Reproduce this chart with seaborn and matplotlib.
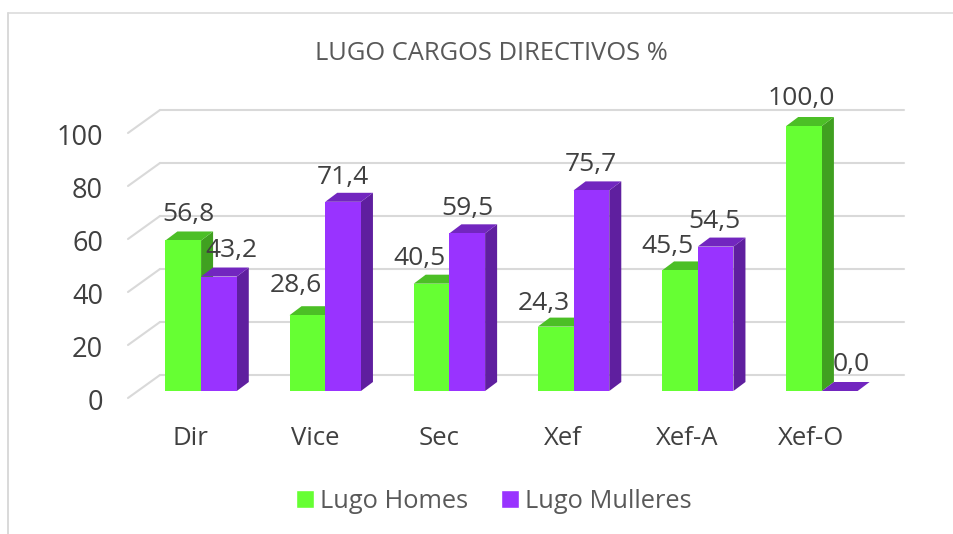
import pandas as pd
import seaborn as sns
import matplotlib.pyplot as plt
from matplotlib.patches import Polygon, Rectangle
from matplotlib.transforms import ScaledTranslation

categories = ['Dir', 'Vice', 'Sec', 'Xef', 'Xef-A', 'Xef-O']
homes = [56.8, 28.6, 40.5, 24.3, 45.5, 100.0]
mulleres = [43.2, 71.4, 59.5, 75.7, 54.5, 0.0]
yticks = [0, 20, 40, 60, 80, 100]

# label shift from bar centre, in pixels
homes_dx = [5, -12, -12, -12, -12, -3]
mulleres_dx = [13, 0, 0, -1, -1, 11]
homes_dy = [26, 30, 25, 23, 24, 27]
mulleres_dy = [26, 24, 25, 26, 25, 27]

W, H = 954, 534
green, purple = '#66FF33', '#9933FF'
tops = {green: '#4CBF26', purple: '#7226BF'}
sides = {green: '#40A020', purple: '#5F1F9F'}

df = pd.DataFrame({
    'cat': categories * 2,
    'val': homes + mulleres,
    'serie': ['Lugo Homes'] * 6 + ['Lugo Mulleres'] * 6,
})

sns.set_theme(style='white')
plt.rcParams['font.family'] = ['Open Sans', 'DejaVu Sans']

fig = plt.figure(figsize=(W / 100, H / 100), dpi=100)
# front plane: x=-0.5 at 139 px, x=5.5 at 884 px, y=0 at 391 px, y=100 at 126 px
ax = fig.add_axes([139 / W, 1 - 391 / H, 745 / W, 265 / H])
sns.barplot(data=df, x='cat', y='val', hue='serie', order=categories,
            palette=[green, purple], width=0.575, saturation=1, ax=ax,
            legend=False, zorder=3, linewidth=0)
ax.set_xlim(-0.5, 5.5)
ax.set_ylim(0, 100)
for s in ax.spines.values():
    s.set_visible(False)
ax.patch.set_alpha(0)
ax.set_xlabel('')
ax.set_ylabel('')

px_x = 6 / 745   # data units per px
px_y = 100 / 265

# back wall gridlines and the left diagonals
for v in yticks:
    yb = v + 16 * px_y
    ax.plot([(160 - 139) * px_x - 0.5, (904 - 139) * px_x - 0.5], [yb, yb],
            color='#D9D9D9', lw=1.5, clip_on=False, zorder=1)
    ax.plot([(128 - 139) * px_x - 0.5, (160 - 139) * px_x - 0.5],
            [v - 7 * px_y, yb], color='#D9D9D9', lw=1.5, clip_on=False, zorder=1)

# depth faces for the bars
dx, dy = 12 * px_x, 9 * px_y
bars = list(ax.patches)
for i, b in enumerate(bars):
    col = green if i < 6 else purple
    x0, x1, h = b.get_x(), b.get_x() + b.get_width(), b.get_height()
    ax.add_patch(Polygon([(x1, 0), (x1 + dx, dy), (x1 + dx, h + dy), (x1, h)],
                         fc=sides[col], lw=0, clip_on=False, zorder=2 + (i >= 6)))
    ax.add_patch(Polygon([(x0, h), (x0 + dx, h + dy), (x1 + dx, h + dy), (x1, h)],
                         fc=tops[col], lw=0, clip_on=False, zorder=2 + (i >= 6)))
    b.set_zorder(3 + (i >= 6))

# data labels
shifts = list(zip(homes_dx + mulleres_dx, homes_dy + mulleres_dy))
for b, v, (sx, sy) in zip(bars, homes + mulleres, shifts):
    ax.annotate(f'{v:.1f}'.replace('.', ','), (b.get_x() + b.get_width() / 2, v),
                xytext=(sx * 0.72, sy * 0.72), textcoords='offset points',
                ha='center', va='center', fontsize=19, color='#404040',
                annotation_clip=False, zorder=6)

ax.set_yticks(yticks)
ax.set_yticklabels([str(v) for v in yticks])
ax.tick_params(axis='y', length=0, pad=26, labelsize=19.5, labelcolor='#404040')
ax.tick_params(axis='x', length=0, pad=25, labelsize=18.5, labelcolor='#404040')
for lab in ax.get_yticklabels():
    lab.set_transform(lab.get_transform() + ScaledTranslation(0, -6 / 72, fig.dpi_scale_trans))
for lab in ax.get_xticklabels():
    lab.set_transform(lab.get_transform() + ScaledTranslation(-7.5 / 72, 0, fig.dpi_scale_trans))

fig.text(491 / W, 1 - 54 / H, 'LUGO CARGOS DIRECTIVOS %', ha='center', va='center',
         fontsize=18.4, color='#595959')

# legend
handles = [Rectangle((0, 0), 1, 1, fc=green), Rectangle((0, 0), 1, 1, fc=purple)]
leg = fig.legend(handles, ['Lugo Homes', 'Lugo Mulleres'], ncol=2, frameon=False,
                 loc='center', bbox_to_anchor=(494 / W, 1 - 501 / H), fontsize=18.3,
                 labelcolor='#595959', handlelength=0.7, handleheight=0.7,
                 handletextpad=0.25, columnspacing=1.3)

# chart frame, cut by the screenshot
fig.add_artist(plt.Line2D([8 / W, 8 / W], [0, 1 - 12.5 / H], color='#D9D9D9', lw=1.4))
fig.add_artist(plt.Line2D([8 / W, 1], [1 - 12.5 / H, 1 - 12.5 / H], color='#D9D9D9', lw=1.1))

fig.savefig('out.png', dpi=100)
